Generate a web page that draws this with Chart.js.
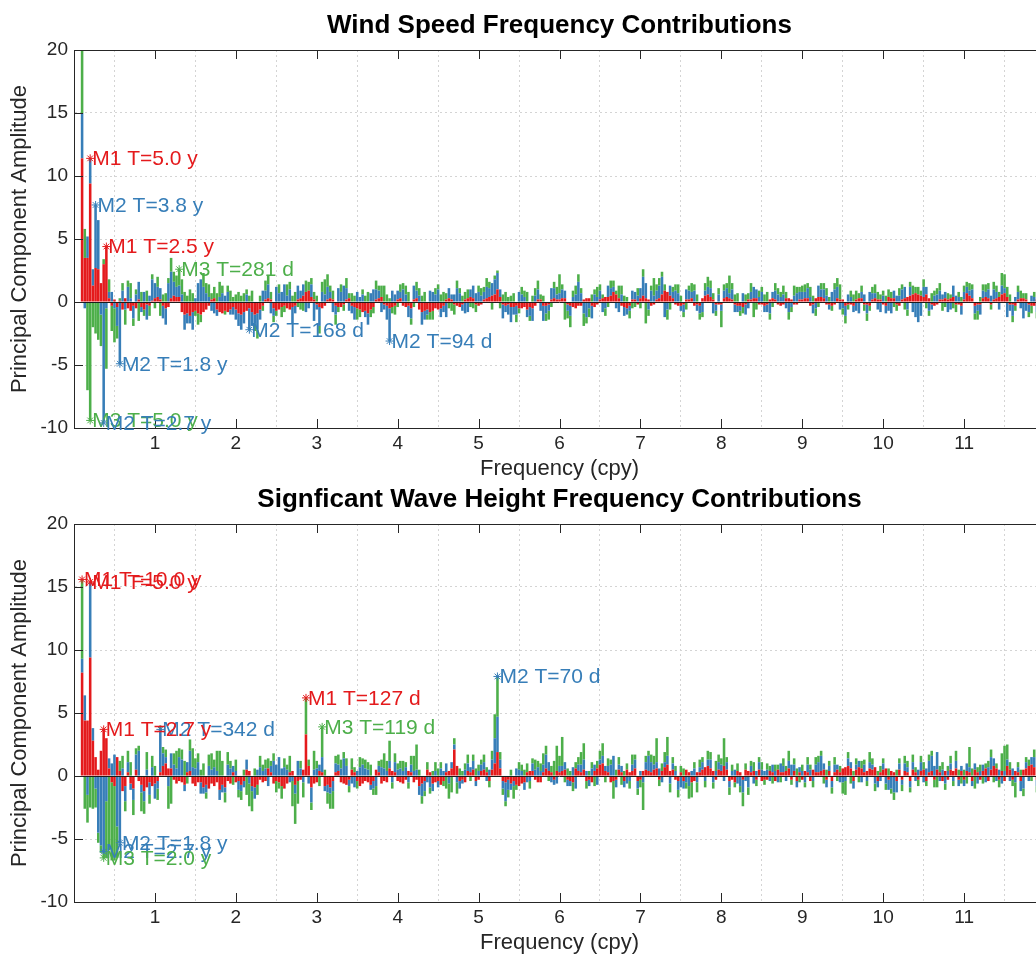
<!DOCTYPE html>
<html>
<head>
<meta charset="utf-8">
<script src="https://cdn.jsdelivr.net/npm/chart.js@4.4.1/dist/chart.umd.min.js"></script>
<style>
  html, body { margin: 0; padding: 0; overflow: hidden; background: #fff; width: 1036px; height: 956px; }
  .panel { position: absolute; left: 0; width: 1045px; height: 482px; }
  canvas { width: 1045px; height: 482px; }
</style>
</head>
<body>
<div class="panel" style="top:0"><canvas id="windChart" width="1045" height="482"></canvas></div>
<div class="panel" style="top:474px"><canvas id="waveChart" width="1045" height="482"></canvas></div>
<script>
// frequency bins are k/30 cpy (30 year record), first plotted bin k = 3
const FIRST_BIN = 3;
const BINS_PER_CPY = 30;
const freqTicks = [1, 2, 3, 4, 5, 6, 7, 8, 9, 10, 11];

// ---- wind speed, one row per cpy ----
const windM1 = [
  11.4, 3.5, 3.5, 9.4, 1.3, 2.7, 2.6, 1.5, 3.0, 4.4, 0.3, -0.3, 0.2, -0.4, 0.1, -0.6, 0.3, -0.5, -0.7, -0.3, -0.5, 0.2, -0.4, -0.6, -0.2, -0.3, 0.1,
  0.3, 0.4, 0.2, -0.3, -0.5, -0.4, 0.3, 0.5, 0.4, 0.4, -0.8, -1.0, -0.9, -1.1, -0.8, -0.7, -0.9, -1.0, -0.8, -0.6, -0.3, 0.2, 0.3, -0.6, -0.8, -0.9, -0.7, -0.8, -0.6, -0.4,
  -0.6, -0.9, -1.0, -0.8, -0.7, -0.5, -0.8, -1.0, -0.9, -0.6, -0.3, 0.2, 0.3, 0.2, -0.5, -0.7, -0.6, -0.4, -0.3, -0.5, -0.6, -0.4, -0.3, 0.2, 0.3, 0.5, 0.8, 0.9, 0.4, 0.2,
  -0.2, -0.4, -0.5, -0.3, 0.2, 0.3, 0.2, -0.3, -0.4, -0.4, -0.2, 0.2, 0.3, -0.3, -0.4, -0.5, -0.6, -0.8, -0.7, -0.9, -0.6, -0.4, 0.2, 0.3, 0.4, -0.2, -0.3, -0.5, -0.4, -0.3,
  0.2, 0.3, -0.3, -0.4, -0.3, -0.5, 0.2, 0.3, -0.6, -0.8, -0.7, -0.6, -0.8, -0.7, -0.5, -0.6, -0.5, -0.3, 0.2, 0.3, 0.2, -0.2, -0.3, -0.4, -0.2, 0.2, 0.3, 0.4, 0.3, -0.2,
  -0.3, -0.2, 0.2, 0.3, 0.4, 0.5, 0.6, 1.0, 0.4, -0.2, -0.3, -0.2, -0.4, -0.4, -0.3, -0.5, -0.5, -0.4, -0.6, -0.4, -0.5, -0.3, 0.2, 0.2, -0.3, -0.3, -0.2, 0.2, 0.3, 0.2,
  0.2, 0.3, 0.3, -0.2, -0.3, -0.4, -0.5, -0.3, -0.3, 0.2, 0.3, 0.3, -0.3, -0.4, -0.2, 0.2, 0.3, 0.4, 0.4, 0.5, 0.8, 0.6, 0.3, -0.3, -0.4, -0.5, -0.3, 0.2, 0.2, -0.2,
  0.3, 0.5, 0.3, 0.2, -0.3, -0.2, 0.2, 0.3, 0.6, 0.9, 0.8, 0.5, 0.3, -0.2, -0.3, -0.3, -0.2, 0.2, 0.2, 0.3, -0.3, -0.2, -0.3, 0.3, 0.5, 0.6, 0.4, 0.2, -0.2, -0.2,
  -0.2, 0.3, 0.4, 0.3, 0.2, -0.2, -0.3, -0.3, -0.4, -0.2, 0.2, 0.2, 0.3, 0.3, -0.2, -0.2, -0.3, -0.2, 0.2, 0.3, 0.2, -0.2, -0.3, -0.2, 0.3, 0.3, 0.2, -0.2, -0.2, 0.2,
  0.2, 0.3, 0.3, -0.3, -0.2, 0.3, 0.4, 0.4, 0.3, -0.2, -0.2, -0.3, -0.2, 0.3, 0.2, 0.2, -0.3, -0.2, -0.2, -0.3, 0.2, 0.3, 0.3, -0.2, -0.2, -0.3, 0.2, 0.3, 0.2, 0.2,
  -0.2, -0.3, 0.4, 0.3, 0.3, -0.2, -0.3, 0.2, 0.3, 0.4, 0.5, 0.6, 0.7, 0.6, 0.5, 0.4, 0.6, 0.3, -0.2, -0.3, -0.2, 0.2, 0.2, 0.3, 0.2, 0.3, 0.4, -0.2, -0.2, -0.3,
  0.2, 0.7, 0.5, 0.3, -0.3, -0.2, -0.2, 0.3, 0.4, 0.3, -0.2, 0.2, 0.3, 0.4, 0.6, 0.7, 0.4, -0.2, -0.2, -0.3, 0.2, 0.3, 0.3, 0.2, -0.2, -0.3, -0.3, 0.2, 0.4, 0.3
];
const windM2 = [
  3.6, -0.5, 1.7, 2.0, 1.3, 5.0, 3.9, -1.0, -9.5, -0.5, 0.5, 0.8, -0.5, -1.5, -4.9, 0.9, -0.6, 1.2, 0.3, -1.0, 0.6, 1.4, -0.4, 0.8, -1.2, 0.5, 1.7,
  1.2, 0.8, 0.9, -1.0, -1.3, 1.5, 2.1, 1.1, 0.8, 0.9, 0.6, -1.2, -0.8, -0.6, -1.4, 0.3, 1.5, 1.8, 1.2, 0.7, 0.4, -0.7, -0.9, -0.5, 0.4, 0.7, 0.5, 0.8, -0.4, -0.6,
  -0.8, -1.0, -1.2, -0.9, 0.6, -1.7, -1.1, -0.7, -1.3, -0.8, 0.9, 0.7, 1.1, -0.9, -0.6, 1.2, 0.7, 0.8, 1.4, 0.5, 1.0, -1.3, -0.6, 1.1, 0.6, 0.9, -0.8, -0.5, 1.0, -1.5,
  -0.4, -1.5, 0.8, 0.6, 1.0, 0.5, -0.8, -0.7, 1.1, 0.8, 1.3, 0.9, -0.7, -0.6, -1.0, 0.8, 0.4, 0.6, -0.5, -0.9, 0.7, 1.0, 0.8, 0.6, -0.8, -0.4, -1.1, -2.6, 0.9, 0.6,
  0.7, 0.5, 1.0, 0.6, -0.9, -0.8, 1.1, 0.6, 0.5, -1.0, -0.7, -0.4, 0.9, 0.8, 0.6, 1.0, -0.7, -0.5, -1.2, 0.8, 0.4, 0.6, 1.1, 0.7, -0.5, -0.9, -0.8, 0.6, 1.0, 0.7,
  0.8, 0.5, 0.6, 0.9, 0.7, 1.0, 1.2, 1.3, 0.6, -1.1, -0.5, -0.8, -1.2, -0.6, -0.7, 0.8, 0.6, 0.4, -0.6, -0.7, -1.0, 0.5, 0.8, -0.7, -1.2, -0.6, -0.5, 0.9, 0.8, 0.4,
  0.5, 0.7, 0.6, -0.5, -0.8, 0.4, 0.6, 1.6, 0.7, -0.9, -1.2, -0.5, -1.0, 0.6, 0.4, 0.7, -0.8, -0.5, 0.9, 0.6, 0.4, -0.5, -0.8, 0.6, -0.7, -0.5, -0.4, 0.7, 0.6, 0.5,
  0.8, 1.5, 1.2, -0.6, 0.9, 0.5, 0.7, 1.0, 1.4, -1.2, -0.6, 0.8, 0.5, 0.9, 0.7, -0.4, -0.6, 0.8, 0.7, 0.5, 0.9, -0.5, -0.6, -0.8, 0.4, 0.6, 0.7, -0.9, -0.5, 0.6,
  -0.5, 0.6, 0.7, 0.4, 0.8, -0.6, -0.5, -0.4, 0.7, -0.8, -0.5, 0.6, 0.9, 0.7, 0.4, 0.8, -0.5, -0.6, -0.9, 0.5, 0.7, 0.6, 0.4, 0.6, -0.5, -0.8, -0.4, 0.5, 0.7, 0.6,
  0.6, 0.5, 0.8, 0.4, -0.7, -0.5, 0.9, 0.6, 0.7, 0.5, -0.4, 0.8, 1.0, 0.9, -0.6, -0.5, -0.8, 0.6, 0.4, -0.5, -0.7, -0.9, 0.5, 0.6, -0.7, 0.8, 0.5, 0.4, -0.6, -0.8,
  0.5, -0.6, -0.7, -0.9, 0.6, 0.5, 0.5, 0.8, 0.9, -0.6, 0.7, -0.8, -1.2, -1.6, -1.1, 0.8, 0.6, -0.7, -0.4, 0.5, 0.6, 0.7, 0.4, 0.5, -0.8, -0.6, 0.9, 0.5, 0.4, -0.7,
  0.6, 0.5, 0.4, 0.7, -0.6, -0.5, -0.8, 0.6, 0.4, 0.7, 0.5, 0.8, 0.5, -0.6, 0.7, 0.4, -1.2, -0.5, -0.9, 0.4, 0.6, -0.5, -1.3, -0.7, -0.6, 0.5, 0.4, -0.8, 0.6, -0.5
];
const windM3 = [
  7.0, 2.3, -7.0, -9.4, -2.0, -2.5, -3.0, -2.5, 0.4, -4.8, 1.0, -2.0, -2.7, -1.0, 0.2, 0.6, -1.2, 0.5, 1.2, -0.6, 0.4, -1.5, 0.8, -0.5, 0.9, -0.8, 0.4,
  -0.5, 0.8, -1.1, 0.6, 0.7, 0.4, 1.1, 0.8, 0.9, 1.3, 1.2, 0.8, 0.5, 1.0, 0.7, -0.4, -0.9, -0.6, 1.1, 0.8, 1.0, 0.5, 0.9, 0.7, 1.2, 0.6, -0.3, 0.5, 0.9, 0.4,
  0.6, 0.8, 0.5, 0.7, 0.4, 0.5, 0.9, -0.6, -0.7, 0.5, -0.4, 0.8, 0.7, 0.6, -0.5, -0.4, 0.7, -0.8, -0.5, 0.9, 0.6, 0.5, 0.8, -0.4, -0.6, -0.7, 0.9, 0.7, 0.5, 0.6,
  0.5, -0.6, 0.8, 1.2, 1.0, 0.5, 0.7, -0.8, -0.4, 0.6, -0.5, 0.8, 0.4, 0.7, 0.5, -0.9, -0.6, 0.4, 0.5, 0.8, -0.6, -0.5, 0.7, 0.4, 0.9, 1.3, 0.6, 0.3, -0.5, -0.7,
  -0.4, 0.6, 0.5, 0.7, 0.8, -0.5, -0.4, 0.7, 0.6, 0.5, 0.8, -0.4, -0.6, -0.7, 0.5, 0.4, 0.6, 0.8, 0.5, -0.5, -0.7, -0.8, 0.6, 0.4, 0.5, 0.6, 0.7, -0.4, -0.5, -0.6,
  0.5, 0.6, 0.4, 0.7, 0.5, -0.6, 0.3, 0.2, -0.5, 0.6, 0.8, 0.4, 0.5, 0.7, -0.6, -0.4, 0.6, 0.5, 0.8, -0.4, 0.5, 0.6, 0.7, 0.4, 0.5, -0.6, -0.7, -0.4, 0.5, 0.6,
  1.5, 0.4, -1.4, -0.6, -0.9, 0.5, 0.7, 0.6, 0.4, -1.0, -0.5, -0.7, 0.6, 0.4, 0.8, 0.5, 0.3, -0.6, -0.4, 0.6, 0.5, 0.3, 1.0, 0.7, 0.5, 0.4, -0.6, -0.5, -0.4, 0.6,
  -0.5, 0.6, -1.7, -0.5, 0.4, 1.4, 0.5, 0.6, 0.4, 0.5, -0.8, -0.6, 0.4, 0.5, 0.7, 0.5, -0.4, -0.6, 0.4, 0.7, 0.5, 0.6, -0.5, -0.4, 0.6, 0.8, 0.6, 0.5, -0.4, 0.5,
  -1.3, 0.5, 0.4, 1.4, 0.5, 0.6, 0.7, -0.4, -0.5, 0.6, 0.5, 0.7, -1.2, -0.6, 0.5, 0.4, 0.6, 0.8, -0.5, -0.4, 0.6, 0.5, 0.4, 0.7, 0.5, -0.6, -0.4, 0.8, 0.5, 0.4,
  0.5, 0.6, 0.4, 0.8, 0.5, -0.6, -0.4, 0.5, 0.5, 0.6, 0.4, -0.4, 0.5, 0.7, 1.2, -0.5, -0.6, -0.4, 0.5, 0.6, 0.7, 0.4, 0.5, -0.5, -0.6, -0.4, 0.5, 0.7, 0.6, 0.4,
  0.4, 0.5, 0.6, 0.5, -0.4, -0.5, 0.6, 0.4, -0.6, -0.5, 0.4, 0.7, 0.5, 0.6, 0.4, 0.6, -0.5, -0.4, 0.7, 0.4, 0.5, 0.6, -0.7, -0.4, 0.5, 0.3, -0.5, -0.6, 0.4, 0.4,
  0.5, 0.4, 0.6, 0.4, -0.5, -0.7, 0.4, 0.5, 0.6, 0.5, -0.4, 0.6, 0.5, 0.4, 1.0, 1.1, 0.8, 0.6, -0.5, -0.4, 0.5, 0.6, 0.4, 0.5, -0.4, -0.6, 0.4, -0.5, -0.9, -1.0
];

// ---- significant wave height, one row per cpy ----
const waveM1 = [
  8.2, 4.4, 4.4, 9.4, 2.8, 1.5, 0.5, 2.0, 3.7, 3.0, 0.6, -0.5, -0.8, 1.5, 0.4, -1.2, -0.8, 0.3, -0.6, -1.0, 0.5, -0.4, -0.7, -1.2, -0.9, -0.5, -0.8,
  -0.6, -0.4, 0.3, 0.8, 1.0, 0.6, 0.6, -0.3, -0.6, -0.4, -0.5, -0.7, 0.3, 0.4, -0.6, -0.8, -0.5, -0.5, -0.9, -0.7, -1.0, -0.6, -0.8, -0.5, -1.1, -0.7, -0.9, -0.4, -0.6, 0.3,
  -0.5, -0.4, -0.7, -0.4, 0.5, 0.4, -0.8, -0.9, -0.7, -0.3, -0.5, -0.4, 0.6, 0.3, -0.6, -0.4, -0.5, -0.8, -1.0, -0.6, 0.3, 0.4, -0.7, -0.4, -0.3, 0.5, 3.3, 0.8, -0.9, -0.6,
  -0.5, 0.4, 0.3, -0.8, -0.7, -0.9, -0.4, 0.3, 0.4, -0.5, -0.6, -0.7, -0.3, 0.5, 0.3, -0.4, -0.8, -0.6, -0.4, -0.5, -0.7, -0.4, 0.5, 0.3, -0.6, -0.4, -0.5, 0.6, 0.4, 0.3,
  -0.4, -0.5, -0.6, -0.3, 0.4, 0.3, -0.5, -0.3, -0.8, -0.6, -0.4, 0.5, 0.3, -0.6, -0.5, -0.4, -0.7, -0.4, 0.3, 0.4, 0.6, 2.1, 0.8, -0.4, -0.3, -0.5, 0.4, 0.3, 0.5, -0.4,
  -0.3, 0.4, 0.5, 0.3, -0.4, 0.5, 1.0, 1.9, 0.6, -0.4, -0.5, -0.3, -0.6, -0.4, -0.7, -0.8, -0.6, -0.5, 0.3, 0.4, 0.4, -0.3, -0.5, -0.5, 0.3, 0.6, 0.4, 0.3, -0.3, 0.4,
  0.3, 0.4, 0.5, -0.3, -0.4, -0.5, 0.6, 0.4, 0.3, 0.5, -0.4, -0.3, -0.5, 0.4, 0.6, 0.9, 1.0, 0.4, 0.3, -0.5, -0.4, -0.3, 0.5, 0.3, -0.4, 0.5, 0.3, 0.4, 0.6, -0.4,
  -0.3, 0.4, 0.5, 0.4, 0.3, 0.5, 0.6, -0.3, 0.4, 0.7, 0.9, 0.4, 0.5, -0.3, -0.4, 0.3, -0.4, 0.5, 0.3, -0.5, -0.4, 0.3, 0.3, 0.5, 0.7, 0.8, 0.6, 0.4, -0.3, 0.5,
  0.4, 0.8, 0.5, -0.4, -0.3, -0.5, 0.4, 0.3, -0.3, 0.5, 0.4, 0.3, 0.4, -0.3, 0.5, -0.4, -0.3, -0.3, 0.4, 0.3, -0.4, 0.5, 0.3, 0.3, 0.4, 0.6, -0.3, 0.4, -0.4, 0.3,
  -0.3, 0.4, 0.3, -0.4, 0.5, 0.3, 0.3, 0.4, 0.5, -0.3, 0.4, -0.4, 0.3, 0.5, 0.3, 0.6, 0.7, 0.8, 0.6, -0.4, 0.5, 0.7, 0.6, 0.3, 0.4, 0.6, 0.5, 0.7, -0.4, 0.3,
  0.5, 0.6, -0.3, 0.4, 0.3, -0.4, 0.5, -0.3, 0.4, 0.3, -0.4, 0.5, 0.3, -0.3, 0.4, 0.5, -0.4, 0.3, 0.4, -0.3, 0.5, 0.3, -0.4, 0.4, -0.3, 0.5, 0.4, 0.6, -0.3, 0.4,
  -0.3, 0.4, 0.3, -0.4, 0.5, 0.3, -0.3, 0.4, 0.6, -0.4, 0.5, 0.8, 0.6, -0.3, 0.4, -0.4, 0.8, 0.5, -0.3, 0.4, 0.3, -0.4, 0.5, 0.6, 0.8, 0.9, 0.7, -0.3, 0.4, 0.5
];
const waveM2 = [
  1.1, 2.0, -1.5, 6.0, 1.0, -1.0, -4.5, -5.5, -6.0, -2.0, 0.8, 1.0, 1.7, -4.0, -5.3, 0.6, -1.2, 0.8, -0.5, -0.9, 1.2, 2.0, -0.6, -0.8, 0.5, -1.0, 0.7,
  -1.2, -0.6, 3.4, 1.0, 0.5, -0.8, 1.2, 0.9, 0.6, 1.5, 1.3, -0.5, 0.8, 1.6, 0.7, 0.6, 1.1, -0.9, -0.5, -0.6, 0.8, 0.5, 0.7, 0.4, -0.8, -0.6, -0.4, 0.9, 0.6, 0.5,
  0.4, -0.7, -0.5, -0.5, 0.8, -0.6, -0.4, -0.9, 0.5, 0.7, 0.4, 0.6, -0.8, 0.5, 1.2, 0.9, 1.5, 0.6, 0.7, 0.5, -0.5, -0.4, -0.7, 1.2, 0.6, -0.5, 0.0, -0.6, -1.2, 0.5,
  0.6, 0.5, 1.2, -0.4, -0.6, -0.5, -0.8, 0.7, 0.5, 0.6, 1.4, 0.8, -0.5, -0.6, -0.9, 0.4, 0.7, 0.9, 0.6, 0.5, -0.4, -0.6, -0.8, 0.5, 0.7, 0.6, 0.4, 0.6, -0.5, 0.8,
  0.5, 0.6, 0.4, 0.7, -0.5, 0.6, 0.4, 0.5, -0.7, -1.0, -0.8, -0.5, -0.9, -0.6, 0.4, -0.5, 0.6, 0.4, 0.7, -0.6, 0.5, 0.4, -0.5, -0.6, -0.3, 0.5, 0.6, 0.4, 0.7, -0.4,
  0.4, 0.5, 0.6, -0.4, 0.5, 0.8, 2.0, 2.8, 0.7, -0.6, -1.5, -0.8, -0.5, -0.4, 0.6, 0.5, 0.4, -0.6, -0.5, -0.4, 0.6, 0.5, 0.7, 0.4, 0.6, 1.1, 0.7, -0.5, -0.4, -0.6,
  0.5, 0.4, 0.6, -0.5, -0.4, 0.7, -1.0, 0.5, 0.6, 0.8, 0.4, -0.5, 0.6, 0.5, -0.7, 0.4, 0.6, 0.4, 0.5, 0.9, 1.6, -0.6, 0.4, 0.5, -0.5, -0.6, -0.4, 0.5, 0.7, -0.6,
  0.4, -0.5, 0.6, 1.2, 0.8, 0.4, 0.5, 0.6, -0.5, 0.4, 0.7, -0.6, 0.5, 0.4, -0.7, -0.9, -0.6, -0.5, -0.8, 0.4, 0.6, -0.5, 0.4, 0.6, -0.4, 0.5, 0.7, -0.5, 0.4, 0.6,
  0.5, -0.4, 0.6, -0.5, 0.4, 0.5, -0.6, -0.8, -1.0, -0.4, -0.9, 0.5, -0.6, 0.4, 0.6, 0.5, 0.4, 0.5, -0.4, 0.6, 0.4, -0.5, 0.7, 0.5, -0.4, 0.6, 0.9, 0.5, -0.5, 0.4,
  0.4, -0.5, 0.6, 0.5, -0.4, 0.6, 0.8, 1.2, 0.5, -0.6, 0.4, -0.5, 0.6, 0.4, -0.5, -0.5, -0.4, 0.6, 0.5, -0.6, 0.4, 0.5, -0.5, 0.6, -0.4, 0.5, 0.4, -0.6, -0.5, -0.4,
  0.5, -0.6, -0.8, -1.0, -1.3, -0.9, 0.5, -0.4, 0.6, 0.4, -0.5, 0.6, -0.4, 0.5, 0.7, -0.5, 0.6, 0.9, 1.2, 0.8, 1.4, -0.4, 0.5, -0.6, 0.4, 0.5, -0.4, 0.6, -0.5, 0.4,
  -0.5, 0.6, 0.4, -0.4, 0.5, -0.6, 0.4, 0.5, -0.5, 0.7, 1.0, 0.6, -0.4, 0.5, -0.6, 0.4, 0.5, -0.4, 0.6, -0.5, 0.4, -0.8, -1.0, 0.5, -0.4, 0.6, 0.8, -0.5, 0.4, -0.6
];
const waveM3 = [
  6.3, -2.6, -2.2, -2.5, -2.6, -1.5, -0.8, -0.6, -0.5, -4.5, -5.9, -6.2, -5.9, -2.5, 0.8, 1.0, -0.8, 0.9, 1.1, -1.2, 0.5, 0.4, -1.5, -1.0, 1.4, -0.7, 0.9,
  0.8, -0.9, 0.3, 0.5, 0.6, -1.8, -2.2, 0.9, 1.4, 0.7, 0.8, 1.2, -0.6, 0.9, 1.5, 0.8, 0.7, 0.5, 1.0, -0.5, 0.9, 1.3, 0.6, 1.6, 2.0, 1.2, -0.8, 1.0, 0.6, -0.7,
  0.9, -0.6, -0.7, 0.5, -1.5, -1.8, -1.6, 0.6, -0.8, 0.9, 0.5, 0.7, 0.8, 0.4, 0.6, -0.9, -0.5, -1.0, 0.7, 0.4, 1.3, -2.0, -2.4, -1.8, 0.6, -1.2, 2.9, 0.5, -0.6, 1.5,
  0.6, -0.8, 2.4, 0.5, -0.9, -1.2, -1.4, 0.6, 0.8, 0.7, 0.5, 0.6, -0.5, 0.9, 0.4, -0.6, 0.8, 0.5, 0.7, 0.6, 0.9, -0.5, -0.7, 0.4, 0.6, 1.2, 0.8, 1.6, -0.5, 0.7,
  0.5, 0.6, 0.8, 0.4, -0.5, 0.7, 1.2, 2.0, 0.5, -0.6, -0.4, 0.6, -0.5, 0.4, 0.7, 0.6, 0.5, -0.4, -1.0, -1.2, -1.3, 0.5, -0.9, 0.6, 0.4, 0.5, 0.7, -0.4, 0.5, 0.6,
  0.5, 0.4, 0.6, 0.4, -0.5, 0.7, 1.9, 3.2, 0.6, -0.5, -0.4, -0.6, 0.5, -1.0, -0.4, 0.6, 0.5, 0.5, 0.7, -0.6, 0.4, 0.8, 0.5, 0.6, 0.9, 0.7, -0.4, 0.5, 1.2, 2.0,
  0.8, 2.3, -0.5, 0.6, 0.4, -0.7, 0.5, 0.6, 1.0, 1.3, -0.6, 0.4, 0.5, -0.8, 0.6, 0.7, 1.0, -0.5, 0.6, 0.4, -1.4, 0.5, 0.6, -0.7, 0.4, 0.5, -0.6, 0.8, 0.4, -0.5,
  -0.6, -2.2, 0.5, 0.4, 0.6, 0.7, 1.9, -0.5, 0.6, 0.8, 1.5, -0.7, 0.5, 0.4, -0.6, 0.5, 0.6, -0.5, -1.0, -1.2, 0.5, -0.8, 0.6, 0.4, -0.5, 0.7, 0.6, -0.5, 0.8, 0.6,
  0.5, 2.2, 0.4, -0.6, 0.5, -0.4, 0.6, -0.5, -1.1, 0.5, -0.6, 0.4, 0.7, -0.5, 0.4, 0.6, -0.4, 0.5, 0.4, -0.6, 0.5, 0.4, -0.5, 0.6, 0.4, 0.8, -0.4, 0.5, 0.6, -0.5,
  0.5, -0.4, 0.6, 0.4, -0.5, 0.6, 0.5, 0.4, -0.6, 0.5, 0.4, -0.5, 0.6, -0.4, 0.5, -0.9, -1.1, 0.5, -0.6, 0.4, 0.5, -0.5, 0.6, 0.4, -0.4, 0.8, 0.5, -0.6, 0.4, 0.5,
  0.4, -0.5, 0.6, -0.4, -0.6, 0.5, 0.4, -0.5, 0.6, 0.5, -0.4, 0.6, 0.4, -0.5, 0.5, 0.6, -0.4, 0.5, 0.4, -0.6, -0.9, 0.5, 0.6, -0.5, 0.4, 0.6, -0.4, 0.8, 0.5, -0.6,
  0.5, -0.6, 1.6, 0.6, -1.0, 0.4, 0.5, -0.6, 0.4, 0.5, 0.6, -0.5, 0.4, -0.6, 1.4, 2.0, 1.2, 0.6, -0.5, -1.2, 0.4, 0.5, -0.6, 0.4, 0.5, -0.4, 0.6, -0.5, 0.4, -0.9
];

// peak labels: text, frequency (cpy), amplitude, mode (0=M1, 1=M2, 2=M3)
const windNoteText = ['M1 T=5.0 y', 'M2 T=3.8 y', 'M1 T=2.5 y', 'M3 T=281 d', 'M2 T=168 d', 'M2 T=94 d', 'M2 T=1.8 y', 'M3 T=5.0 y', 'M2 T=2.7 y'];
const windNoteFreq = [0.2, 0.267, 0.4, 1.3, 2.167, 3.9, 0.567, 0.2, 0.367];
const windNoteAmp = [11.4, 7.7, 4.4, 2.6, -2.2, -3.1, -4.9, -9.4, -9.6];
const windNoteMode = [0, 1, 0, 2, 1, 1, 1, 2, 1];

const waveNoteText = ['M1 T=10.0 y', 'M1 T=5.0 y', 'M2 T=342 d', 'M1 T=2.7 y', 'M1 T=127 d', 'M3 T=119 d', 'M2 T=70 d', 'M2 T=2.7 y', 'M3 T=2.0 y', 'M2 T=1.8 y'];
const waveNoteFreq = [0.1, 0.2, 1.067, 0.367, 2.867, 3.067, 5.233, 0.367, 0.367, 0.567];
const waveNoteAmp = [15.6, 15.4, 3.7, 3.7, 6.2, 3.9, 7.9, -6.0, -6.5, -5.3];
const waveNoteMode = [0, 0, 1, 0, 0, 2, 1, 1, 2, 1];

const freqCpy = windM1.map((_, i) => (FIRST_BIN + i) / BINS_PER_CPY);

const RED = '#e41a1c', BLUE = '#377eb8', GREEN = '#4daf4a';
const modeColors = [RED, BLUE, GREEN];
const AXIS = '#262626';
const GRID = '#d4d4d4';
const FONT = '"Liberation Sans", Arial, Helvetica, sans-serif';

Chart.defaults.font.family = FONT;
Chart.defaults.color = AXIS;

function drawStar(ctx, px, py, r) {
    ctx.beginPath();
    for (let a = 0; a < 4; a++) {
        const t = a * Math.PI / 4;
        ctx.moveTo(px - r * Math.cos(t), py - r * Math.sin(t));
        ctx.lineTo(px + r * Math.cos(t), py + r * Math.sin(t));
    }
    ctx.stroke();
}

// box, inward ticks, zero baseline and the peak labels
function framePlugin(text, freq, amp, mode) {
    return {
        id: 'frame',
        afterDatasetsDraw(chart) {
            const { ctx, chartArea: a, scales: { x, y } } = chart;
            ctx.save();
            ctx.lineWidth = 1;

            const y0 = Math.round(y.getPixelForValue(0)) + 0.5;
            ctx.strokeStyle = '#1c1c1c';
            ctx.beginPath();
            ctx.moveTo(a.left, y0);
            ctx.lineTo(a.right, y0);
            ctx.stroke();

            ctx.strokeStyle = AXIS;
            ctx.beginPath();
            ctx.moveTo(a.left, a.top + 0.5);
            ctx.lineTo(a.right, a.top + 0.5);
            freqTicks.forEach(v => {
                const px = Math.round(x.getPixelForValue(v)) + 0.5;
                ctx.moveTo(px, a.bottom);
                ctx.lineTo(px, a.bottom - 9);
                ctx.moveTo(px, a.top);
                ctx.lineTo(px, a.top + 9);
            });
            y.ticks.forEach(t => {
                const py = Math.round(y.getPixelForValue(t.value)) + 0.5;
                ctx.moveTo(a.left, py);
                ctx.lineTo(a.left + 9, py);
            });
            ctx.stroke();

            ctx.font = '21px ' + FONT;
            ctx.textBaseline = 'middle';
            ctx.textAlign = 'left';
            text.forEach((label, i) => {
                const px = x.getPixelForValue(freq[i]);
                const py = y.getPixelForValue(amp[i]);
                ctx.strokeStyle = modeColors[mode[i]];
                ctx.fillStyle = modeColors[mode[i]];
                drawStar(ctx, px, py, 4);
                ctx.fillText(label, px + 2, py + 1);
            });
            ctx.restore();
        }
    };
}

function buildChart(canvasId, title, m1, m2, m3, notes) {
    const pts = arr => arr.map((v, i) => ({ x: freqCpy[i], y: v }));
    const barStyle = { barPercentage: 0.95, categoryPercentage: 1, borderWidth: 0 };
    return new Chart(document.getElementById(canvasId), {
        type: 'bar',
        data: {
            datasets: [
                { label: 'M1', data: pts(m1), backgroundColor: RED, ...barStyle },
                { label: 'M2', data: pts(m2), backgroundColor: BLUE, ...barStyle },
                { label: 'M3', data: pts(m3), backgroundColor: GREEN, ...barStyle },
            ],
        },
        options: {
            responsive: false,
            animation: false,
            devicePixelRatio: 1,
            layout: { padding: 0 },
            plugins: {
                legend: { display: false },
                tooltip: { enabled: false },
                title: {
                    display: true,
                    text: title,
                    fullSize: false,
                    color: '#000',
                    font: { size: 26, weight: 'bold', lineHeight: 1.2 },
                    padding: { top: 10, bottom: 8.8 },
                },
            },
            scales: {
                x: {
                    type: 'linear',
                    stacked: true,
                    offset: false,
                    min: 0,
                    max: 12,
                    afterBuildTicks: s => { s.ticks = freqTicks.map(v => ({ value: v })); },
                    afterFit: s => { s.height = 54; },
                    grid: { color: GRID, drawTicks: false },
                    border: { color: AXIS, width: 1, dash: [2, 3] },
                    ticks: { font: { size: 19 }, color: AXIS, padding: 4, maxRotation: 0, autoSkip: false },
                    title: {
                        display: true,
                        text: 'Frequency (cpy)',
                        color: AXIS,
                        font: { size: 22, lineHeight: 1 },
                        padding: { top: 0, bottom: 2 },
                    },
                },
                y: {
                    stacked: true,
                    min: -10,
                    max: 20,
                    afterFit: s => { s.width = 74; },
                    grid: { color: GRID, drawTicks: false },
                    border: { color: AXIS, width: 1, dash: [2, 3] },
                    ticks: { stepSize: 5, font: { size: 19 }, color: AXIS, padding: 6 },
                    title: {
                        display: true,
                        text: 'Principal Component Amplitude',
                        color: AXIS,
                        font: { size: 22, lineHeight: 1.2 },
                        padding: { top: 7, bottom: 0 },
                    },
                },
            },
        },
        plugins: [framePlugin(notes.text, notes.freq, notes.amp, notes.mode)],
    });
}

buildChart('windChart', 'Wind Speed Frequency Contributions', windM1, windM2, windM3,
    { text: windNoteText, freq: windNoteFreq, amp: windNoteAmp, mode: windNoteMode });
buildChart('waveChart', 'Signficant Wave Height Frequency Contributions', waveM1, waveM2, waveM3,
    { text: waveNoteText, freq: waveNoteFreq, amp: waveNoteAmp, mode: waveNoteMode });
</script>
</body>
</html>
